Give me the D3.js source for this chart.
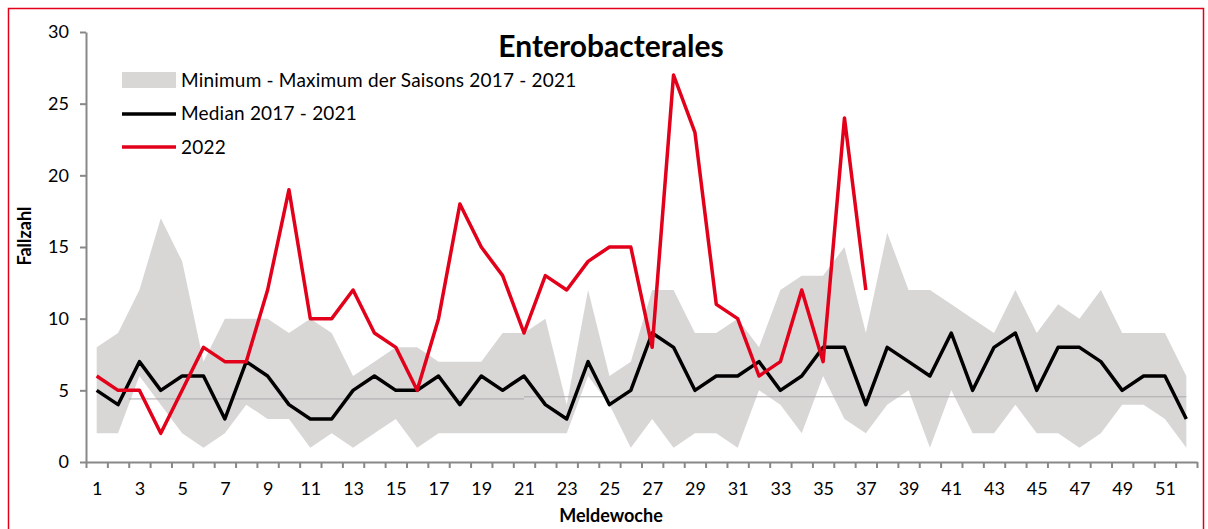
<!DOCTYPE html>
<html>
<head>
<meta charset="utf-8">
<script src="https://cdn.jsdelivr.net/npm/d3@7"></script>
<style>
  body { margin: 0; background: #fff; }
  text { font-family: Lato, "Open Sans", sans-serif; }
</style>
</head>
<body>
<div id="viz-container"></div>
<script>
// weeks 1..52
let weeks = d3.range(1, 53);

// median 2017 - 2021
let median = [5,4,7,5,6,6,3,7,6,4,3,3,5,6,
  5,5,6,4,6,5,6,4,3,7,4,5,9,8,
  5,6,6,7,5,6,8,8,4,8,7,6,9,
  5,8,9,5,8,8,7,5,6,6,3];

// min / max of the seasons 2017 - 2021
let bandMax = [8,9,12,17,14,7,10,10,10,9,10,9,6,7,
  8,8,7,7,7,9,9,10,4,12,6,7,12,12,
  9,9,10,8,12,13,13,15,9,16,12,12,11,
  10,9,12,9,11,10,12,9,9,9,6];
let bandMin = [2,2,6,4,2,1,2,4,3,3,1,2,1,2,
  3,1,2,2,2,2,2,2,2,6,4,1,3,1,
  2,2,1,5,4,2,6,3,2,4,5,1,5,
  2,2,4,2,2,1,2,4,4,3,1];

// 2022, weeks 1..37
let y2022 = [6,5,5,2,5,8,7,7,12,19,10,10,12,9,8,5,10,18,15,13,
  9,13,12,14,15,15,8,27,23,11,10,6,7,12,7,24,12];

// thin grey reference line
let refLine = [{from:2.5,to:21,v:4.4},{from:21,to:52,v:4.55}];

let yTicks = [0,5,10,15,20,25,30];
let xLabels = weeks.filter(function(w){return w % 2 == 1;});

let legendItems = ['Minimum - Maximum der Saisons 2017 - 2021','Median 2017 - 2021','2022'];

let red = '#e2001a';

let svg = d3.select('#viz-container')
  .append('svg')
    .attr('width',1208)
    .attr('height',529);

// red frame
svg.append('rect')
  .attr('x',8.5).attr('y',8.5)
  .attr('width',1195).attr('height',540)
  .attr('fill','none')
  .attr('stroke',red)
  .attr('stroke-width',1.5);

let x = d3.scaleLinear().domain([0.5,52.5]).range([86,1197]);
let y = d3.scaleLinear().domain([0,30]).range([462,32]);

// band
let area = d3.area()
  .x(function(d){return x(d);})
  .y0(function(d){return y(bandMin[d-1]);})
  .y1(function(d){return y(bandMax[d-1]);});

svg.append('path')
  .datum(weeks)
  .attr('d',area)
  .attr('fill','#d9d6d6');

// reference line
svg.selectAll('.ref').data(refLine).enter()
  .append('line')
    .attr('x1',function(d){return x(d.from);})
    .attr('x2',function(d){return x(d.to);})
    .attr('y1',function(d){return y(d.v);})
    .attr('y2',function(d){return y(d.v);})
    .attr('stroke','#aaa')
    .attr('stroke-width',1);

// axes
let yAxis = svg.append('g')
  .attr('transform','translate(86,0)')
  .call(d3.axisLeft(y).tickValues(yTicks).tickSize(6).tickSizeOuter(0));
yAxis.selectAll('text').attr('font-size',18).attr('fill','#000').attr('x',-17);

let xAxis = svg.append('g')
  .attr('transform','translate(0,462)')
  .call(d3.axisBottom(x).tickValues(d3.range(0.5,53,1)).tickSize(6).tickSizeOuter(0).tickFormat(''));

svg.append('g')
  .attr('transform','translate(0,462)')
  .call(d3.axisBottom(x).tickValues(xLabels).tickSize(0).tickPadding(20))
  .call(function(g){g.select('.domain').remove();})
  .selectAll('text').attr('font-size',18).attr('fill','#000');

svg.selectAll('.domain, .tick line').attr('stroke','#888').attr('stroke-width',2);

// lines
let weekLine = d3.line()
  .x(function(d,i){return x(i+1);})
  .y(function(d){return y(d);});

svg.append('path')
  .datum(median)
  .attr('d',weekLine)
  .attr('fill','none')
  .attr('stroke','#000')
  .attr('stroke-width',3.5)
  .attr('stroke-linejoin','round');

svg.append('path')
  .datum(y2022)
  .attr('d',weekLine)
  .attr('fill','none')
  .attr('stroke',red)
  .attr('stroke-width',3.5)
  .attr('stroke-linejoin','round');

// title
svg.append('text')
  .attr('x',611).attr('y',57)
  .attr('text-anchor','middle')
  .attr('font-size',30)
  .attr('font-weight','bold')
  .text('Enterobacterales');

// axis titles
svg.append('text')
  .attr('transform','translate(31,236) rotate(-90)')
  .attr('text-anchor','middle')
  .attr('font-size',18)
  .attr('font-weight','bold')
  .text('Fallzahl');

svg.append('text')
  .attr('x',611).attr('y',522)
  .attr('text-anchor','middle')
  .attr('font-size',18)
  .attr('font-weight','bold')
  .text('Meldewoche');

// legend
let lg = svg.append('g').attr('transform','translate(122,80)');
lg.append('rect').attr('x',0).attr('y',-8).attr('width',54).attr('height',16).attr('fill','#d9d6d6');
lg.append('line').attr('x1',0).attr('x2',54).attr('y1',34).attr('y2',34).attr('stroke','#000').attr('stroke-width',3.5);
lg.append('line').attr('x1',0).attr('x2',54).attr('y1',67).attr('y2',67).attr('stroke',red).attr('stroke-width',3.5);
lg.selectAll('.lt').data(legendItems).enter()
  .append('text')
    .attr('x',59)
    .attr('y',function(d,i){return i*33.5;})
    .attr('dy','0.35em')
    .attr('font-size',19)
    .attr('letter-spacing',0.2)
    .text(function(d){return d;});
</script>
</body>
</html>
